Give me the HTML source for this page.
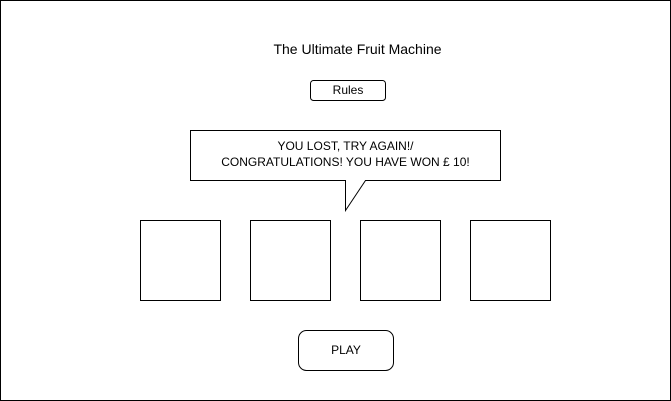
<!DOCTYPE html>
<html><head><style>
html,body{margin:0;padding:0;background:#fff;width:671px;height:401px;overflow:hidden}
text{font-family:"Liberation Sans",Arial,sans-serif;font-size:12px;fill:#000}
</style></head><body>
<svg width="671" height="401" viewBox="0 0 671 401" xmlns="http://www.w3.org/2000/svg">
<rect x="0.5" y="0.5" width="670" height="400" fill="#fff" stroke="#000"/>
<text x="357.5" y="54" text-anchor="middle" style="font-size:14px">The Ultimate Fruit Machine</text>
<rect x="310.5" y="80.5" width="75" height="20" rx="3" fill="#fff" stroke="#000"/>
<text x="348" y="94" text-anchor="middle">Rules</text>
<path d="M190.5 130.5 H500.5 V180.5 H365.5 L345.5 210.5 V180.5 H190.5 Z" fill="#fff" stroke="#000"/>
<text x="345.5" y="150" text-anchor="middle">YOU LOST, TRY AGAIN!/</text>
<text x="345.5" y="166" text-anchor="middle">CONGRATULATIONS! YOU HAVE WON £ 10!</text>
<rect x="140.5" y="220.5" width="80" height="80" fill="#fff" stroke="#000"/>
<rect x="250.5" y="220.5" width="80" height="80" fill="#fff" stroke="#000"/>
<rect x="360.5" y="220.5" width="80" height="80" fill="#fff" stroke="#000"/>
<rect x="470.5" y="220.5" width="80" height="80" fill="#fff" stroke="#000"/>
<rect x="298.5" y="330.5" width="95" height="40" rx="8" fill="#fff" stroke="#000"/>
<text x="346" y="354" text-anchor="middle">PLAY</text>
</svg>
</body></html>
